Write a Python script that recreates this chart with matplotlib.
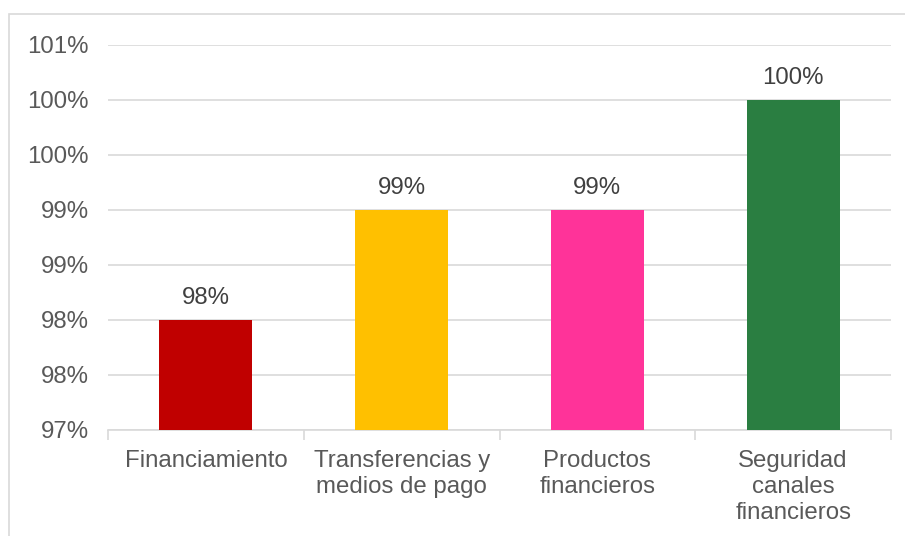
import matplotlib
matplotlib.use("Agg")
import matplotlib.pyplot as plt
from matplotlib.ticker import FuncFormatter, MultipleLocator
from matplotlib.patches import Rectangle

categories = ["Financiamiento", "Transferencias y\nmedios de pago", "Productos\nfinancieros", "Seguridad\ncanales\nfinancieros"]
values = [98.0, 99.0, 99.0, 100.0]
colors = ["#C00000", "#FFC000", "#FF3399", "#2A7E41"]

plt.rcParams['font.family'] = ['Liberation Sans', 'DejaVu Sans']
W, H = 905, 536
fig = plt.figure(figsize=(W/100, H/100), dpi=100)
ax = fig.add_axes([108/W, 1-430/H, (891-108)/W, (430-45)/H])

fig.patches.append(Rectangle((9/W, -0.05), 1.2, 1-14/H+0.05, transform=fig.transFigure,
                             fill=False, edgecolor="#D9D9D9", linewidth=1.2))

FS = 17.3
x = range(len(categories))
ax.bar(x, [v - 97 for v in values], bottom=97, width=0.475, color=colors, zorder=3)
for xi, v in zip(x, values):
    ax.text(xi, v + 0.10, f"{v:.0f}%", ha="center", va="bottom", fontsize=FS, color="#404040")

ax.set_ylim(97, 100.5)
ax.set_xlim(-0.5, 3.5)
ax.yaxis.set_major_locator(MultipleLocator(0.5))
ax.yaxis.set_major_formatter(FuncFormatter(lambda v, p: f"{round(v + 1e-9):.0f}%"))
ax.grid(axis="y", color="#D9D9D9", linewidth=1.2, zorder=0)
for s in ["top", "right", "left"]:
    ax.spines[s].set_visible(False)
ax.spines["bottom"].set_color("#D9D9D9")
ax.spines["bottom"].set_linewidth(1.2)
ax.tick_params(axis="y", length=0, pad=14, labelsize=FS, labelcolor="#595959")
ax.set_xticks(list(x))
ax.set_xticklabels(categories, fontsize=FS, color="#595959", linespacing=1.22)
ax.tick_params(axis="x", length=0, pad=14.5)
ax.set_xticks([-0.5, 0.5, 1.5, 2.5, 3.5], minor=True)
ax.tick_params(axis="x", which="minor", length=7, color="#D9D9D9", width=1.2)

fig.savefig("out.png", dpi=100)
